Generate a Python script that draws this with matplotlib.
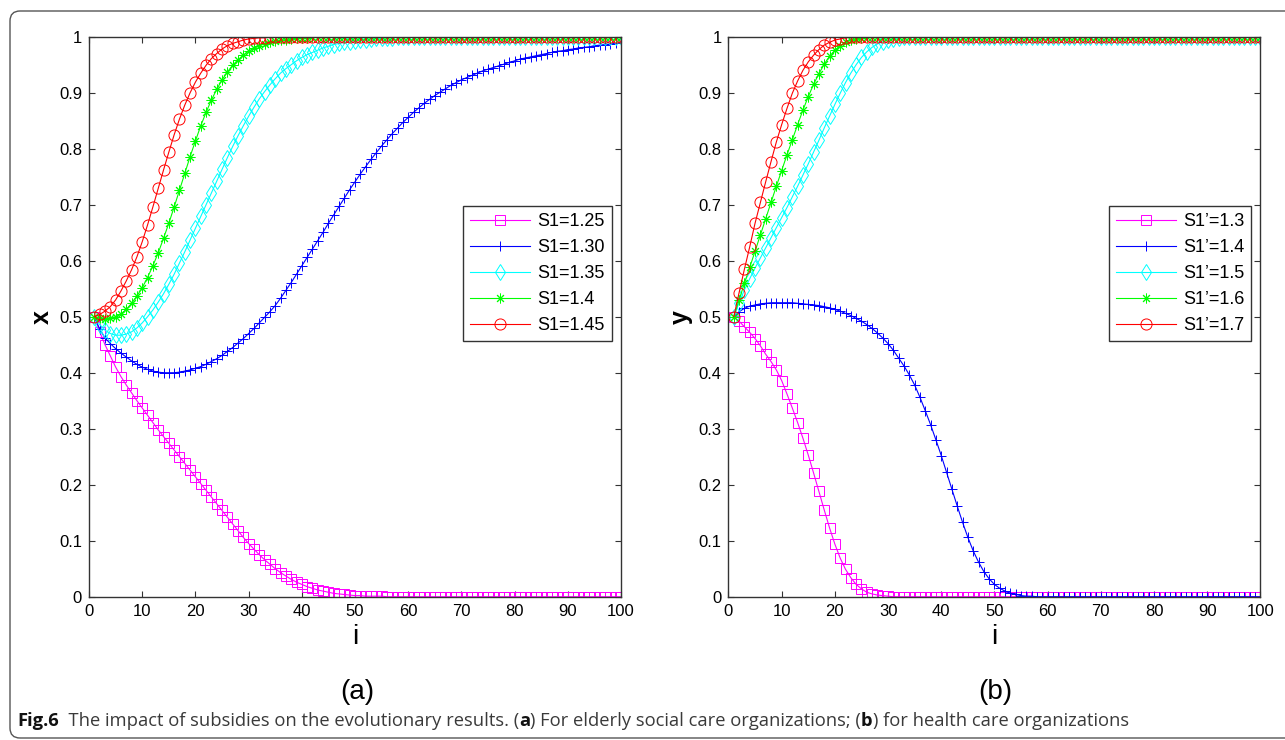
import numpy as np
import matplotlib.pyplot as plt
from matplotlib.patches import FancyBboxPatch
from matplotlib.transforms import IdentityTransform

plt.rcParams['font.family'] = ['Liberation Sans', 'DejaVu Sans']

steps = np.arange(1, 101)

# panel (a): x for elderly social care organizations
x_s125 = [0.500, 0.473, 0.450, 0.430, 0.410, 0.393, 0.378, 0.364, 0.350, 0.337,
          0.324, 0.311, 0.298, 0.286, 0.274, 0.262, 0.250, 0.238, 0.226, 0.214,
          0.202, 0.190, 0.178, 0.166, 0.154, 0.142, 0.130, 0.118, 0.106, 0.095,
          0.085, 0.075, 0.066, 0.058, 0.050, 0.043, 0.037, 0.031, 0.026, 0.022,
          0.018, 0.015, 0.012, 0.010, 0.008, 0.006, 0.005, 0.004, 0.003, 0.002,
          0.002, 0.001, 0.001, 0.001, 0.001, 0.0, 0.0, 0.0, 0.0, 0.0,
          0.0, 0.0, 0.0, 0.0, 0.0, 0.0, 0.0, 0.0, 0.0, 0.0,
          0.0, 0.0, 0.0, 0.0, 0.0, 0.0, 0.0, 0.0, 0.0, 0.0,
          0.0, 0.0, 0.0, 0.0, 0.0, 0.0, 0.0, 0.0, 0.0, 0.0,
          0.0, 0.0, 0.0, 0.0, 0.0, 0.0, 0.0, 0.0, 0.0, 0.0]
x_s130 = [0.500, 0.478, 0.462, 0.452, 0.443, 0.435, 0.428, 0.421, 0.415, 0.410,
          0.406, 0.403, 0.401, 0.400, 0.400, 0.400, 0.401, 0.403, 0.405, 0.408,
          0.411, 0.415, 0.420, 0.425, 0.431, 0.438, 0.445, 0.453, 0.461, 0.470,
          0.479, 0.489, 0.499, 0.509, 0.520, 0.533, 0.547, 0.561, 0.576, 0.591,
          0.606, 0.621, 0.636, 0.651, 0.667, 0.682, 0.697, 0.712, 0.727, 0.741,
          0.755, 0.768, 0.781, 0.793, 0.805, 0.816, 0.827, 0.837, 0.847, 0.856,
          0.865, 0.873, 0.881, 0.888, 0.895, 0.901, 0.907, 0.913, 0.918, 0.923,
          0.927, 0.931, 0.935, 0.939, 0.942, 0.945, 0.948, 0.951, 0.954, 0.957,
          0.960, 0.962, 0.964, 0.966, 0.968, 0.970, 0.972, 0.974, 0.975, 0.977,
          0.978, 0.980, 0.981, 0.982, 0.984, 0.985, 0.986, 0.987, 0.988, 0.989]
x_s135 = [0.500, 0.486, 0.476, 0.470, 0.467, 0.467, 0.469, 0.473, 0.480, 0.489,
          0.500, 0.512, 0.526, 0.541, 0.558, 0.576, 0.596, 0.616, 0.637, 0.658,
          0.679, 0.700, 0.721, 0.742, 0.763, 0.784, 0.804, 0.823, 0.841, 0.858,
          0.874, 0.889, 0.902, 0.914, 0.925, 0.935, 0.943, 0.950, 0.957, 0.963,
          0.968, 0.972, 0.976, 0.980, 0.983, 0.986, 0.988, 0.990, 0.991, 0.993,
          0.994, 0.995, 0.996, 0.997, 0.997, 0.998, 0.998, 0.999, 0.999, 0.999,
          1.0, 1.0, 1.0, 1.0, 1.0, 1.0, 1.0, 1.0, 1.0, 1.0,
          1.0, 1.0, 1.0, 1.0, 1.0, 1.0, 1.0, 1.0, 1.0, 1.0,
          1.0, 1.0, 1.0, 1.0, 1.0, 1.0, 1.0, 1.0, 1.0, 1.0,
          1.0, 1.0, 1.0, 1.0, 1.0, 1.0, 1.0, 1.0, 1.0, 1.0]
x_s140 = [0.500, 0.497, 0.496, 0.497, 0.500, 0.505, 0.513, 0.524, 0.537, 0.552,
          0.570, 0.591, 0.614, 0.640, 0.667, 0.696, 0.726, 0.756, 0.786, 0.814,
          0.841, 0.865, 0.887, 0.906, 0.923, 0.937, 0.949, 0.959, 0.967, 0.974,
          0.979, 0.984, 0.987, 0.990, 0.992, 0.994, 0.995, 0.996, 0.997, 0.998,
          0.998, 0.999, 0.999, 0.999, 1.0, 1.0, 1.0, 1.0, 1.0, 1.0,
          1.0, 1.0, 1.0, 1.0, 1.0, 1.0, 1.0, 1.0, 1.0, 1.0,
          1.0, 1.0, 1.0, 1.0, 1.0, 1.0, 1.0, 1.0, 1.0, 1.0,
          1.0, 1.0, 1.0, 1.0, 1.0, 1.0, 1.0, 1.0, 1.0, 1.0,
          1.0, 1.0, 1.0, 1.0, 1.0, 1.0, 1.0, 1.0, 1.0, 1.0,
          1.0, 1.0, 1.0, 1.0, 1.0, 1.0, 1.0, 1.0, 1.0, 1.0]
x_s145 = [0.500, 0.504, 0.510, 0.518, 0.530, 0.546, 0.564, 0.584, 0.607, 0.634,
          0.664, 0.696, 0.729, 0.762, 0.794, 0.825, 0.853, 0.878, 0.900, 0.919,
          0.935, 0.949, 0.961, 0.970, 0.978, 0.984, 0.988, 0.991, 0.994, 0.996,
          0.997, 0.998, 0.998, 0.999, 0.999, 1.0, 1.0, 1.0, 1.0, 1.0,
          1.0, 1.0, 1.0, 1.0, 1.0, 1.0, 1.0, 1.0, 1.0, 1.0,
          1.0, 1.0, 1.0, 1.0, 1.0, 1.0, 1.0, 1.0, 1.0, 1.0,
          1.0, 1.0, 1.0, 1.0, 1.0, 1.0, 1.0, 1.0, 1.0, 1.0,
          1.0, 1.0, 1.0, 1.0, 1.0, 1.0, 1.0, 1.0, 1.0, 1.0,
          1.0, 1.0, 1.0, 1.0, 1.0, 1.0, 1.0, 1.0, 1.0, 1.0,
          1.0, 1.0, 1.0, 1.0, 1.0, 1.0, 1.0, 1.0, 1.0, 1.0]

# panel (b): y for health care organizations
y_s13 = [0.500, 0.492, 0.482, 0.472, 0.461, 0.448, 0.433, 0.420, 0.405, 0.386,
         0.362, 0.337, 0.311, 0.283, 0.253, 0.221, 0.188, 0.155, 0.123, 0.094,
         0.069, 0.049, 0.034, 0.022, 0.014, 0.008, 0.005, 0.003, 0.002, 0.001,
         0.0, 0.0, 0.0, 0.0, 0.0, 0.0, 0.0, 0.0, 0.0, 0.0,
         0.0, 0.0, 0.0, 0.0, 0.0, 0.0, 0.0, 0.0, 0.0, 0.0,
         0.0, 0.0, 0.0, 0.0, 0.0, 0.0, 0.0, 0.0, 0.0, 0.0,
         0.0, 0.0, 0.0, 0.0, 0.0, 0.0, 0.0, 0.0, 0.0, 0.0,
         0.0, 0.0, 0.0, 0.0, 0.0, 0.0, 0.0, 0.0, 0.0, 0.0,
         0.0, 0.0, 0.0, 0.0, 0.0, 0.0, 0.0, 0.0, 0.0, 0.0,
         0.0, 0.0, 0.0, 0.0, 0.0, 0.0, 0.0, 0.0, 0.0, 0.0]
y_s14 = [0.500, 0.509, 0.515, 0.519, 0.521, 0.523, 0.524, 0.525, 0.525, 0.525,
         0.525, 0.525, 0.524, 0.523, 0.522, 0.521, 0.520, 0.518, 0.516, 0.513,
         0.510, 0.506, 0.502, 0.497, 0.492, 0.486, 0.479, 0.471, 0.462, 0.452,
         0.440, 0.426, 0.412, 0.396, 0.378, 0.356, 0.332, 0.307, 0.280, 0.252,
         0.222, 0.192, 0.162, 0.133, 0.106, 0.082, 0.062, 0.045, 0.032, 0.022,
         0.015, 0.010, 0.006, 0.004, 0.002, 0.001, 0.001, 0.0, 0.0, 0.0,
         0.0, 0.0, 0.0, 0.0, 0.0, 0.0, 0.0, 0.0, 0.0, 0.0,
         0.0, 0.0, 0.0, 0.0, 0.0, 0.0, 0.0, 0.0, 0.0, 0.0,
         0.0, 0.0, 0.0, 0.0, 0.0, 0.0, 0.0, 0.0, 0.0, 0.0,
         0.0, 0.0, 0.0, 0.0, 0.0, 0.0, 0.0, 0.0, 0.0, 0.0]
y_s15 = [0.500, 0.525, 0.548, 0.568, 0.587, 0.605, 0.623, 0.641, 0.659, 0.677,
         0.695, 0.714, 0.733, 0.753, 0.773, 0.794, 0.815, 0.837, 0.858, 0.879,
         0.899, 0.918, 0.935, 0.950, 0.963, 0.973, 0.981, 0.987, 0.991, 0.994,
         0.996, 0.998, 0.999, 0.999, 1.0, 1.0, 1.0, 1.0, 1.0, 1.0,
         1.0, 1.0, 1.0, 1.0, 1.0, 1.0, 1.0, 1.0, 1.0, 1.0,
         1.0, 1.0, 1.0, 1.0, 1.0, 1.0, 1.0, 1.0, 1.0, 1.0,
         1.0, 1.0, 1.0, 1.0, 1.0, 1.0, 1.0, 1.0, 1.0, 1.0,
         1.0, 1.0, 1.0, 1.0, 1.0, 1.0, 1.0, 1.0, 1.0, 1.0,
         1.0, 1.0, 1.0, 1.0, 1.0, 1.0, 1.0, 1.0, 1.0, 1.0,
         1.0, 1.0, 1.0, 1.0, 1.0, 1.0, 1.0, 1.0, 1.0, 1.0]
y_s16 = [0.500, 0.530, 0.560, 0.588, 0.617, 0.646, 0.675, 0.704, 0.733, 0.761,
         0.789, 0.816, 0.843, 0.869, 0.893, 0.915, 0.934, 0.951, 0.965, 0.976,
         0.984, 0.990, 0.994, 0.996, 0.998, 0.999, 0.999, 1.0, 1.0, 1.0,
         1.0, 1.0, 1.0, 1.0, 1.0, 1.0, 1.0, 1.0, 1.0, 1.0,
         1.0, 1.0, 1.0, 1.0, 1.0, 1.0, 1.0, 1.0, 1.0, 1.0,
         1.0, 1.0, 1.0, 1.0, 1.0, 1.0, 1.0, 1.0, 1.0, 1.0,
         1.0, 1.0, 1.0, 1.0, 1.0, 1.0, 1.0, 1.0, 1.0, 1.0,
         1.0, 1.0, 1.0, 1.0, 1.0, 1.0, 1.0, 1.0, 1.0, 1.0,
         1.0, 1.0, 1.0, 1.0, 1.0, 1.0, 1.0, 1.0, 1.0, 1.0,
         1.0, 1.0, 1.0, 1.0, 1.0, 1.0, 1.0, 1.0, 1.0, 1.0]
y_s17 = [0.500, 0.543, 0.585, 0.625, 0.667, 0.704, 0.741, 0.777, 0.812, 0.843,
         0.872, 0.899, 0.921, 0.940, 0.955, 0.967, 0.977, 0.985, 0.990, 0.994,
         0.996, 0.998, 0.999, 0.999, 1.0, 1.0, 1.0, 1.0, 1.0, 1.0,
         1.0, 1.0, 1.0, 1.0, 1.0, 1.0, 1.0, 1.0, 1.0, 1.0,
         1.0, 1.0, 1.0, 1.0, 1.0, 1.0, 1.0, 1.0, 1.0, 1.0,
         1.0, 1.0, 1.0, 1.0, 1.0, 1.0, 1.0, 1.0, 1.0, 1.0,
         1.0, 1.0, 1.0, 1.0, 1.0, 1.0, 1.0, 1.0, 1.0, 1.0,
         1.0, 1.0, 1.0, 1.0, 1.0, 1.0, 1.0, 1.0, 1.0, 1.0,
         1.0, 1.0, 1.0, 1.0, 1.0, 1.0, 1.0, 1.0, 1.0, 1.0,
         1.0, 1.0, 1.0, 1.0, 1.0, 1.0, 1.0, 1.0, 1.0, 1.0]

labels_a = ['S1=1.25', 'S1=1.30', 'S1=1.35', 'S1=1.4', 'S1=1.45']
labels_b = ['S1\u2019=1.3', 'S1\u2019=1.4', 'S1\u2019=1.5', 'S1\u2019=1.6', 'S1\u2019=1.7']

# matlab-ish colours and markers, same order for both panels
colors = ['#ff00ff', '#0000ff', '#00ffff', '#00ff00', '#ff0000']
markers = ['s', '+', 'd', (8, 2, 0), 'o']
msizes = [6.5, 7.5, 8.5, 7.0, 8.0]

fig = plt.figure(figsize=(12.85, 7.4), dpi=100)
ax_a = fig.add_axes([0.0693, 0.1936, 0.414, 0.7568])
ax_b = fig.add_axes([0.5669, 0.1936, 0.414, 0.7568])


def draw_panel(ax, series, labels, ylab):
    for vals, lab, c, m, ms in zip(series, labels, colors, markers, msizes):
        ax.plot(steps, vals, color=c, lw=0.8, marker=m, ms=ms,
                mfc='none', mec=c, mew=0.7, label=lab)
    ax.set_xlim(0, 100)
    ax.set_ylim(0, 1)
    ax.set_xticks(np.arange(0, 101, 10))
    ax.set_yticks(np.arange(0, 1.01, 0.1))
    ax.set_yticklabels(['0', '0.1', '0.2', '0.3', '0.4', '0.5', '0.6',
                        '0.7', '0.8', '0.9', '1'])
    ax.tick_params(direction='in', top=True, right=True, length=4,
                   width=0.8, labelsize=12, pad=5, color='#333333')
    for sp in ax.spines.values():
        sp.set_linewidth(1.0)
        sp.set_color('#333333')
    ax.set_xlabel('i', fontsize=20, labelpad=4)
    ax.set_ylabel(ylab, fontsize=18, fontweight='bold', labelpad=4)
    leg = ax.legend(loc='upper right', bbox_to_anchor=(0.983, 0.698),
                    borderaxespad=0, fancybox=False, edgecolor='#333333',
                    framealpha=1, fontsize=13, handlelength=3.3,
                    handletextpad=0.4, labelspacing=0.5, borderpad=0.4,
                    numpoints=1)
    leg.get_frame().set_linewidth(1.0)


draw_panel(ax_a, [x_s125, x_s130, x_s135, x_s140, x_s145], labels_a, 'x')
draw_panel(ax_b, [y_s13, y_s14, y_s15, y_s16, y_s17], labels_b, 'y')

fig.text(357 / 1285, 1 - 692 / 740, '(a)', fontsize=20, ha='center', va='center')
fig.text(995 / 1285, 1 - 692 / 740, '(b)', fontsize=20, ha='center', va='center')

# rounded frame around the figure, open at the right edge
frame = FancyBboxPatch((10, 2), 1320, 727, boxstyle='round,pad=0,rounding_size=10',
                       transform=IdentityTransform(), fill=False,
                       edgecolor='#555555', lw=1.0)
fig.patches.append(frame)

# caption with bold pieces, sized to span the same width as the original
pieces = [('Fig.6', 'bold', '#111111'),
          ('  The impact of subsidies on the evolutionary results. (', 'normal', '#3a3a3a'),
          ('a', 'bold', '#111111'),
          (') For elderly social care organizations; (', 'normal', '#3a3a3a'),
          ('b', 'bold', '#111111'),
          (') for health care organizations', 'normal', '#3a3a3a')]
renderer = fig.canvas.get_renderer()
cap_texts = [fig.text(0, 1 - 721 / 740, txt, fontsize=12, fontweight=wt, color=col,
                      va='center', ha='left', family=['Open Sans', 'DejaVu Sans'])
             for txt, wt, col in pieces]
total = sum(t.get_window_extent(renderer).width for t in cap_texts)
cap_size = 12 * 1110 / total
xpos = 17
for t in cap_texts:
    t.set_fontsize(cap_size)
    t.set_x(xpos / 1285)
    xpos += t.get_window_extent(renderer).width

fig.savefig('out.png', dpi=100)
